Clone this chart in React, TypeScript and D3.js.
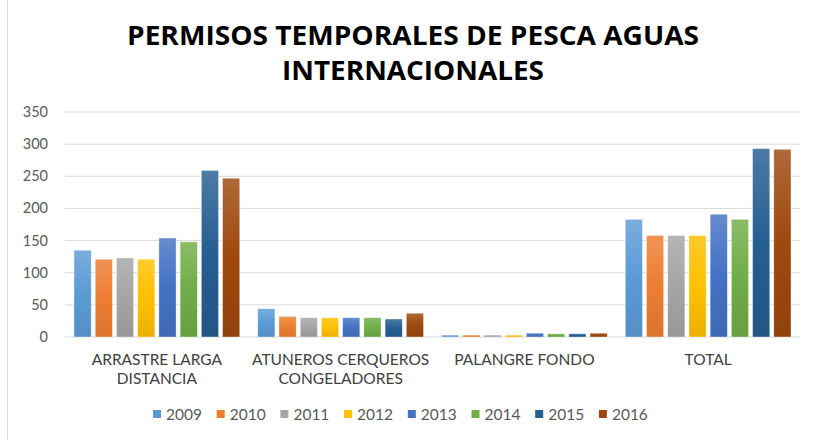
import React from "react";
import * as d3 from "d3";

const categories: string[][] = [
  ["ARRASTRE LARGA", "DISTANCIA"],
  ["ATUNEROS CERQUEROS", "CONGELADORES"],
  ["PALANGRE FONDO"],
  ["TOTAL"],
];
const years = ["2009", "2010", "2011", "2012", "2013", "2014", "2015", "2016"];
const colors = ["#5B9BD5", "#ED7D31", "#A5A5A5", "#FFC000", "#4472C4", "#70AD47", "#255E91", "#9E480E"];
const v2009 = [135, 44, 3, 183];
const v2010 = [121, 32, 3, 158];
const v2011 = [123, 30, 3, 158];
const v2012 = [121, 30, 3, 158];
const v2013 = [154, 30, 6, 191];
const v2014 = [148, 30, 5, 183];
const v2015 = [259, 28, 5, 293];
const v2016 = [247, 37, 6, 292];
const series = [v2009, v2010, v2011, v2012, v2013, v2014, v2015, v2016];
const yTicks = [0, 50, 100, 150, 200, 250, 300, 350];
const titleLines = ["PERMISOS TEMPORALES DE PESCA AGUAS", "INTERNACIONALES"];

const W = 822;
const H = 440;
const plot = { left: 65, right: 800, top: 112, bottom: 337 };
const font = "Lato, 'Open Sans', sans-serif";

export default function App() {
  const y = d3.scaleLinear().domain([0, 350]).range([plot.bottom, plot.top]);
  const x0 = d3
    .scaleBand<number>()
    .domain(d3.range(categories.length))
    .range([plot.left, plot.right])
    .padding(0);
  const x1 = d3
    .scaleBand<number>()
    .domain(d3.range(years.length))
    .range([9, x0.step() - 9])
    .paddingInner(0.19)
    .paddingOuter(0);

  const legendStart = 153;
  const legendStep = 63.7;

  return (
    <svg
      width={W}
      height={H}
      style={{ position: "absolute", left: 0, top: 0, background: "#fff" }}
      fontFamily={font}
    >
      <defs>
        {colors.map((c, i) => {
          const top = d3.interpolateRgb(c, "#ffffff")(0.18);
          const bot = d3.interpolateRgb(c, "#000000")(0.08);
          return (
            <linearGradient key={i} id={`g${i}`} x1="0" y1="0" x2="0" y2="1">
              <stop offset="0" stopColor={top} />
              <stop offset="0.5" stopColor={c} />
              <stop offset="1" stopColor={bot} />
            </linearGradient>
          );
        })}
      </defs>
      <rect x={0} y={0} width={W} height={H} fill="#fff" />
      <line x1={7.5} x2={7.5} y1={0} y2={H} stroke="#D9D9D9" />

      {titleLines.map((t, i) => (
        <text
          key={i}
          x={413}
          y={45 + i * 35}
          textAnchor="middle"
          fontSize={26}
          fontWeight="bold"
          fill="#000"
          fontFamily="'Open Sans', Lato, sans-serif"
          textLength={i === 0 ? 572 : 262}
          lengthAdjust="spacingAndGlyphs"
        >
          {t}
        </text>
      ))}

      {yTicks.map((t) => (
        <g key={t}>
          <line x1={plot.left} x2={plot.right} y1={y(t)} y2={y(t)} stroke="#D9D9D9" strokeWidth={1} />
          <text x={48} y={y(t) + 5} textAnchor="end" fontSize={14.5} fill="#595959">
            {t}
          </text>
        </g>
      ))}

      {categories.map((cat, ci) => (
        <g key={ci} transform={`translate(${x0(ci)},0)`}>
          {series.map((s, si) => (
            <rect
              key={si}
              x={x1(si)}
              y={y(s[ci])}
              width={x1.bandwidth()}
              height={y(0) - y(s[ci])}
              fill={`url(#g${si})`}
              stroke="rgba(255,255,255,0.6)"
              strokeWidth={0.6}
            />
          ))}
          {cat.map((line, li) => (
            <text
              key={li}
              x={x0.bandwidth() / 2}
              y={365 + li * 19}
              textAnchor="middle"
              fontSize={15.5}
              fill="#404040"
            >
              {line}
            </text>
          ))}
        </g>
      ))}

      {years.map((yr, i) => (
        <g key={yr} transform={`translate(${legendStart + i * legendStep},0)`}>
          <rect x={0} y={410} width={8} height={8} fill={colors[i]} />
          <text x={13} y={420} fontSize={15.5} fill="#595959">
            {yr}
          </text>
        </g>
      ))}
    </svg>
  );
}
